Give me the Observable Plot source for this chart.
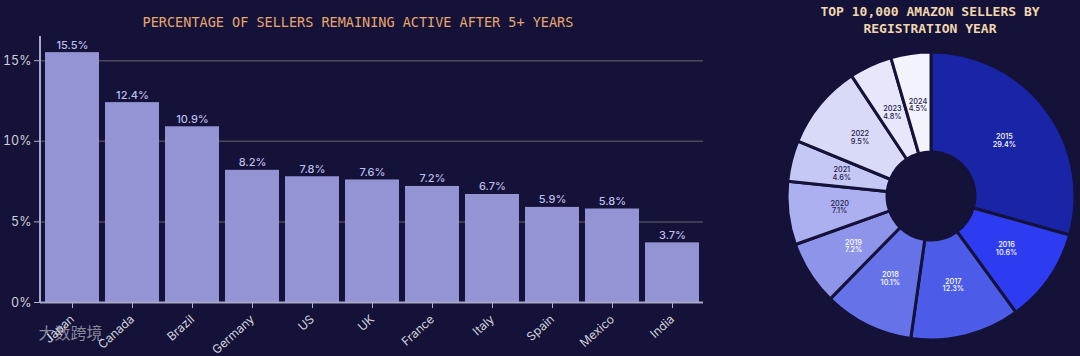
<!DOCTYPE html>
<html><head><meta charset="utf-8">
<script src="https://cdn.jsdelivr.net/npm/d3@7"></script>
<script src="https://cdn.jsdelivr.net/npm/@observablehq/plot@0.6"></script>
<style>
html,body{margin:0;padding:0;background:#141238;}
#chart{width:1080px;height:356px;}
</style></head><body><div id="chart"></div>
<script>
const countries = ["Japan","Canada","Brazil","Germany","US","UK","France","Italy","Spain","Mexico","India"];
const activePct = [15.5,12.4,10.9,8.2,7.8,7.6,7.2,6.7,5.9,5.8,3.7];
const yTicks = [0,5,10,15];
const years = ["2015","2016","2017","2018","2019","2020","2021","2022","2023","2024"];
const sellerShare = [29.4,10.6,12.3,10.1,7.2,7.1,4.6,9.5,4.8,4.5];
const sliceColors = ["#1a24a6","#2d3cf0","#4c5ce9","#6673e8","#8e94ea","#adb0f0","#c5c7f4","#d9d9f8","#e7e7fb","#f3f3fd"];
const labelColors = ["#ffffff","#ffffff","#ffffff","#ffffff","#ffffff","#22224a","#22224a","#22224a","#22224a","#22224a"];
const barTitle = "PERCENTAGE OF SELLERS REMAINING ACTIVE AFTER 5+ YEARS";
const pieTitle1 = "TOP 10,000 AMAZON SELLERS BY";
const pieTitle2 = "REGISTRATION YEAR";
const watermark = "大数跨境";

const bars = countries.map((c, i) => ({country: c, value: activePct[i]}));
const slices = years.map((y, i) => ({year: y, value: sellerShare[i], fill: sliceColors[i], label: labelColors[i]}));

const BG = "#141238";
const mono = "'DejaVu Sans Mono', 'Liberation Mono', monospace";

function leftAxisLine(index, scales, values, dim) {
  const l = d3.create("svg:line")
    .attr("x1", dim.marginLeft).attr("x2", dim.marginLeft)
    .attr("y1", dim.marginTop).attr("y2", dim.height - dim.marginBottom)
    .attr("stroke", "#a8a8c8").attr("stroke-width", 2);
  return l.node();
}

function donut(index, scales, values, dim) {
  const cx = dim.width - 149, cy = 196;
  const g = d3.create("svg:g").attr("transform", `translate(${cx},${cy})`);
  const arcs = d3.pie().sort(null).value(d => d.value)(slices);
  const arc = d3.arc().innerRadius(44).outerRadius(144);
  const labelArc = d3.arc().innerRadius(92).outerRadius(92);
  g.selectAll("path").data(arcs).join("path")
    .attr("d", arc).attr("fill", d => d.data.fill)
    .attr("stroke", BG).attr("stroke-width", 3).attr("stroke-linejoin", "round");
  const t = g.selectAll("text").data(arcs).join("text")
    .attr("transform", d => `translate(${labelArc.centroid(d)})`)
    .attr("text-anchor", "middle")
    .attr("font-family", "Inter, 'DejaVu Sans', sans-serif")
    .attr("font-size", 7.3).attr("font-weight", 500)
    .attr("fill", d => d.data.label);
  t.append("tspan").attr("x", 0).attr("dy", "-0.15em").text(d => d.data.year);
  t.append("tspan").attr("x", 0).attr("dy", "1.0em").text(d => d.data.value.toFixed(1) + "%");
  return g.node();
}

const chart = Plot.plot({
  width: 1080, height: 356,
  marginLeft: 40, marginRight: 377, marginTop: 36, marginBottom: 54,
  style: {background: BG, color: "#c8c8d8", fontFamily: "Inter, 'DejaVu Sans', sans-serif", fontSize: "12px", overflow: "visible"},
  x: {domain: countries, paddingInner: 0.1, paddingOuter: 0.05, label: null},
  y: {domain: [0, 16.5], label: null},
  marks: [
    Plot.ruleY([5, 10, 15], {stroke: "#4a4a5c", strokeWidth: 1.5}),
    Plot.barY(bars, {x: "country", y: "value", fill: "#9494d4"}),
    Plot.text(bars, {x: "country", y: "value", text: d => d.value.toFixed(1) + "%", dy: -4, lineAnchor: "bottom", fill: "#bdbdec", fontSize: 11, fontWeight: 500}),
    Plot.axisY({ticks: yTicks, tickFormat: d => d + "%", tickSize: 6, tickPadding: 3, stroke: "#b0b0c8", fill: "#d0d0dc", fontSize: 12.5, label: null}),
    Plot.axisX({tickRotate: -42, tickSize: 6, tickPadding: 9, stroke: "#b0b0c8", fill: "#d0d0dc", fontSize: 12, label: null}),
    Plot.ruleY([0], {stroke: "#a8a8c8", strokeWidth: 2}),
    leftAxisLine,
    Plot.text([barTitle], {frameAnchor: "top", lineAnchor: "middle", dx: -14, dy: -14, fill: "#e8a66c", fontSize: 13.5, fontFamily: mono}),
    Plot.text([pieTitle1], {frameAnchor: "top", lineAnchor: "middle", dx: 558, dy: -25, fill: "#f0d6ae", fontSize: 13, fontWeight: "bold", fontFamily: mono}),
    Plot.text([pieTitle2], {frameAnchor: "top", lineAnchor: "middle", dx: 558, dy: -8, fill: "#f0d6ae", fontSize: 13, fontWeight: "bold", fontFamily: mono}),
    Plot.text([watermark], {frameAnchor: "bottom-left", lineAnchor: "middle", dx: -2, dy: 31, textAnchor: "start", fill: "#d8d8e0", fillOpacity: 0.6, fontSize: 16, fontFamily: "'Noto Sans CJK SC', sans-serif"}),
    donut
  ]
});
document.getElementById("chart").appendChild(chart);
</script>
</body></html>
